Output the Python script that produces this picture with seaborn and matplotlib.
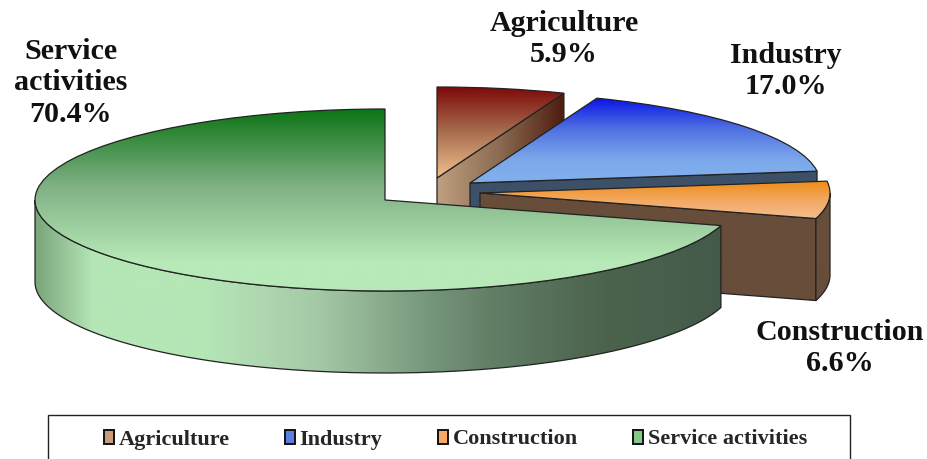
import numpy as np
import seaborn as sns
from matplotlib import pyplot as plt
from matplotlib.patches import Patch, Polygon, Rectangle
from matplotlib.transforms import Affine2D

sectors = ['Agriculture', 'Industry', 'Construction', 'Service activities']
shares = [5.9, 17.0, 6.6, 70.4]
slice_labels = ['Agriculture\n5.9%', 'Industry\n17.0%', 'Construction\n6.6%', 'Service\nactivities\n70.4%']
label_pos = [(564, 37), (786, 69), (840, 346), (71, 81)]

# slice centres on the picture, px
centres = [(437, 178), (470, 183), (480, 193), (385, 200)]
rx, ry, depth = 350, 91, 82

top_cols = [['#7d0a0a', '#a86f50', '#f2c08e'], ['#0a14e6', '#4f70e2', '#7ba8ea', '#85b2ec'],
            ['#ee8c16', '#f2a860', '#f3bd8e'], ['#0c7414', '#7eb084', '#b8e9b8', '#b8e9b8']]
top_spans = [(87, 178), (98, 190), (181, 218), (108, 339)]
wall_cols = [['#c0a080', '#8a6a50', '#4e1d10'], ['#3c5068', '#3c5068'], ['#674d3a', '#674d3a'],
             ['#7aa67c', '#b5e6b6', '#b5e6b6', '#b5e6b6', '#aed6b0', '#a3c8a5', '#8cae8f', '#74947a',
              '#627f66', '#56705a', '#4c624d', '#48604c', '#44594a']]
legend_cols = ['#c99b78', '#5a7fe0', '#f5aa62', '#86c888']

sns.set_theme(style='white')
plt.rcParams['font.family'] = ['Liberation Serif', 'DejaVu Serif']

fig = plt.figure(figsize=(9.27, 4.59), dpi=100)
ax = fig.add_axes([0, 0, 1, 1])

wedges, _ = ax.pie(shares, startangle=90, counterclock=False)


def fill(patch, cmap, x0, x1, y0, y1, z, horizontal=False):
    ramp = np.linspace(0, 1, 256)
    ramp = ramp[None, :] if horizontal else ramp[:, None]
    im = ax.imshow(ramp, cmap=cmap, extent=(x0, x1, y1, y0), aspect='auto', zorder=z, interpolation='bilinear')
    im.set_clip_path(patch)


def arc(c, a0, a1):
    t = np.radians(np.linspace(a0, a1, 80))
    return np.column_stack([c[0] + rx * np.cos(t), c[1] - ry * np.sin(t)])


def add_shape(pts, cols, z, span):
    cmap = sns.blend_palette(cols, as_cmap=True)
    poly = Polygon(pts, closed=True, fc='none', ec='#222222', lw=0.9, zorder=z + 0.5)
    ax.add_patch(poly)
    fill(poly, cmap, span[0], span[1], pts[:, 1].min(), pts[:, 1].max(), z, horizontal=True)


z = 2
for i, w in enumerate(wedges):
    c = centres[i]
    low, high = w.theta1, w.theta2
    if i == 3:
        # only the front of the big slice shows
        a = arc(c, -180, high)
        add_shape(np.vstack([a, (a + [0, depth])[::-1]]), wall_cols[i], z, (c[0] - rx, a[-1, 0]))
    else:
        edge = arc(c, low, low)[0]
        face = np.array([c, edge, edge + [0, depth], np.array(c) + [0, depth]])
        add_shape(face, wall_cols[i], z, (c[0], edge[0]))
        if low < 0:
            a = arc(c, low, 0)
            add_shape(np.vstack([a, (a + [0, depth])[::-1]]), wall_cols[i][-1:] * 2, z + 1, (c[0], c[0] + rx))

    w.set_transform(Affine2D().scale(rx, -ry).translate(*c) + ax.transData)
    w.set(facecolor='none', edgecolor='#222222', linewidth=0.9, zorder=z + 3)
    cmap = sns.blend_palette(top_cols[i], as_cmap=True)
    fill(w, cmap, c[0] - rx, c[0] + rx, top_spans[i][0], top_spans[i][1], z + 2)
    z += 5

for txt, pos in zip(slice_labels, label_pos):
    ax.text(pos[0], pos[1] + 2, txt, ha='center', va='center', fontsize=21.6, fontweight='bold',
            color='#111111', linespacing=1.23, zorder=50)

# legend box runs off the bottom of the picture
ax.add_patch(Rectangle((48, 415), 802, 60, fc='white', ec='#222222', lw=1.0, zorder=40))
handles = [Patch(fc=col, ec='#111111', lw=1.4) for col in legend_cols]
ax.legend(handles, sectors, ncol=4, frameon=False, loc='center left', bbox_to_anchor=(104 / 927, 1 - 439.5 / 459),
          bbox_transform=fig.transFigure, prop={'size': 16, 'weight': 'bold'}, handlelength=0.45, handleheight=0.6,
          handletextpad=0.2, columnspacing=2.5, borderpad=0, borderaxespad=0).set_zorder(45)

ax.set_xlim(0, 927)
ax.set_ylim(459, 0)
ax.set_aspect('auto')
ax.axis('off')
fig.savefig('out.png', dpi=100, facecolor='white')
